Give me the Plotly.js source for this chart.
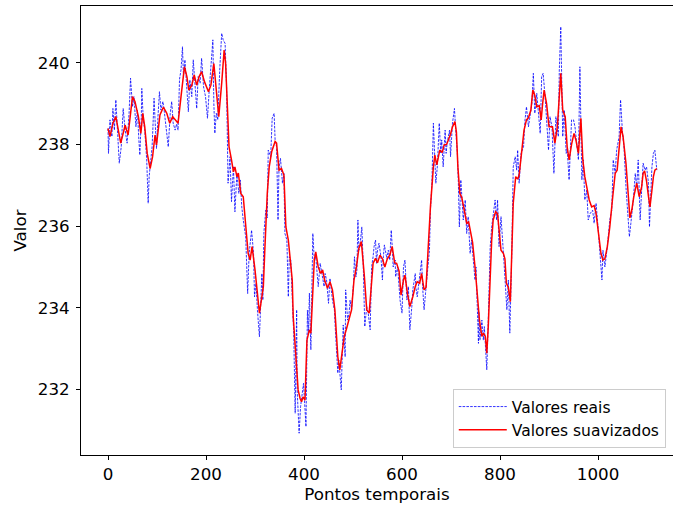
<!DOCTYPE html>
<html>
<head>
<meta charset="utf-8">
<script src="https://cdn.plot.ly/plotly-3.0.1.min.js"></script>
<style>html,body{margin:0;padding:0;background:#fff;}#chart{width:673px;height:509px;}</style>
</head>
<body>
<div id="chart"></div>
<script>
// Valores reais
const realX = [0,1,4,8,10,13,16,20,23,27,31,35,39,43,46,50,53,57,60,63,65,68,69,72,75,79,82,84,87,90,92,94,97,99,102,105,108,112,114,118,123,127,130,133,137,140,143,146,149,152,154,157,161,164,167,171,174,178,181,184,188,191,195,199,203,207,210,214,216,218,221,224,228,232,235,239,242,244,245,249,252,256,259,263,267,270,273,276,281,285,288,293,297,299,302,305,309,312,314,316,318,322,325,327,332,335,339,341,344,347,349,352,356,359,361,365,368,370,373,377,379,382,384,385,386,388,390,393,396,399,401,404,407,409,411,414,418,421,424,427,429,433,436,441,443,446,450,453,458,462,464,469,471,476,478,480,484,485,489,492,494,497,501,503,506,508,510,512,514,518,521,524,528,531,535,538,541,543,546,548,550,553,557,560,562,564,569,572,575,578,580,582,586,587,591,594,596,600,603,606,610,613,616,620,622,627,628,631,635,640,642,645,648,650,654,656,658,661,664,667,669,672,676,679,681,684,688,690,692,697,699,703,707,710,713,715,717,720,722,725,729,732,735,739,742,746,749,751,754,756,757,759,763,766,768,773,776,780,783,786,790,793,795,798,802,807,812,814,817,820,824,827,831,834,836,839,843,848,851,854,858,861,865,868,871,875,878,882,885,888,892,895,899,902,906,910,914,919,921,924,926,928,931,935,937,941,946,950,953,957,960,963,967,970,973,977,980,984,989,992,996,1001,1004,1008,1010,1014,1019,1024,1028,1031,1035,1038,1043,1046,1050,1053,1057,1062,1064,1067,1072,1076,1079,1082,1086,1089,1092,1096,1099,1103,1105,1108,1110,1113,1116,1120];
const realY = [238.39,237.78,238.6,238.19,238.88,238.35,239.09,238.19,237.54,237.94,238.88,238.35,238.03,238.76,239.62,238.92,239.17,238.43,238.84,238.11,237.74,238.68,239.37,238.6,238.35,237.62,236.56,237.21,237.62,237.94,238.52,239.13,238.35,237.9,238.68,239.29,238.84,239.05,238.9,238.43,237.94,238.76,239.05,238.52,238.35,238.5,238.35,239.6,239.82,240.39,239.66,240.07,239.41,238.8,239.58,239.17,240.07,239.41,238.88,239.66,239.5,240.11,239.41,239.17,238.64,239.41,239.82,240.56,239.0,238.27,238.76,238.6,239.82,240.72,240.56,240.47,239.41,238.19,237.05,237.7,236.6,237.45,236.35,237.29,236.8,237.13,236.47,236.15,235.74,234.35,235.33,235.9,235.33,234.27,234.6,233.94,233.29,234.19,234.84,234.19,235.82,236.39,236.2,237.86,237.7,238.64,238.76,238.11,237.94,236.15,237.45,237.66,237.05,237.29,235.82,235.66,234.27,235.25,235.17,233.95,233.38,231.42,232.97,233.95,231.99,231.58,230.93,231.58,231.91,232.15,231.74,231.09,233.94,233.38,234.36,232.97,235.82,235.17,235.25,234.76,234.52,235.09,234.84,234.52,234.84,234.68,234.11,234.72,234.19,233.95,233.46,232.4,232.72,231.99,232.8,233.58,232.8,234.44,233.7,233.87,234.19,233.95,234.6,235.25,234.76,234.93,236.15,235.41,235.5,235.98,235.0,233.54,234.03,233.87,233.46,235.0,235.25,235.5,235.66,235.09,235.41,235.58,235.25,234.68,235.25,235.54,235.21,235.41,235.17,235.9,235.5,235.0,235.17,234.76,235.0,234.36,234.19,233.87,235.0,235.17,234.19,234.52,233.46,234.03,234.44,234.84,234.52,234.27,234.68,235.17,234.52,233.95,234.36,234.68,235.25,235.41,236.39,237.05,238.52,237.62,237.05,237.45,238.52,237.78,238.11,237.45,238.35,237.78,238.03,238.35,237.7,238.52,238.88,238.27,237.78,237.05,235.98,237.13,236.64,236.15,236.64,235.82,236.23,235.33,235.66,235.17,234.68,235.0,234.03,233.13,233.9,233.21,233.7,233.21,233.54,232.48,233.7,235.5,235.98,236.31,236.64,236.15,236.64,235.5,236.23,235.33,234.44,233.95,234.68,233.38,235.33,237.45,237.7,237.37,237.86,237.05,237.78,237.94,238.6,238.92,238.43,238.68,239.0,239.74,238.76,239.25,238.76,238.27,239.66,239.74,239.17,238.6,237.86,238.68,238.43,237.29,238.68,238.19,239.82,240.88,239.41,238.19,238.84,237.78,237.9,237.13,238.6,238.6,238.43,237.94,237.62,239.9,237.13,237.62,236.64,236.88,236.15,236.31,236.39,236.07,236.56,235.82,235.33,234.68,235.41,235.0,235.5,236.15,236.39,237.62,237.29,237.86,238.19,239.09,238.27,237.94,236.96,235.98,235.74,236.07,236.64,237.29,236.96,237.62,236.15,236.88,237.54,237.37,237.45,237.05,235.98,236.88,237.45,237.78,237.86,237.37];

// Valores suavizados
const smoothX = [0,4,10,16,26,35,41,50,55,62,67,71,75,80,86,91,96,99,106,113,120,126,132,139,143,149,156,161,165,171,176,181,186,191,197,205,210,216,221,226,232,237,240,244,247,252,256,259,263,266,271,276,281,286,290,294,300,305,309,313,317,320,325,329,334,341,344,349,354,359,363,368,371,376,378,382,385,388,392,395,398,402,406,411,414,418,421,424,429,434,438,442,448,453,458,463,469,473,478,482,487,492,497,502,507,512,517,523,528,533,537,541,546,550,555,560,565,570,575,580,585,589,594,598,603,606,611,616,622,627,631,636,640,645,649,653,658,664,667,671,674,677,682,686,691,696,699,703,708,711,714,718,722,727,732,736,740,744,749,754,758,763,766,770,773,776,779,783,786,791,795,798,802,807,810,813,817,821,824,827,832,836,839,844,849,854,858,863,867,871,875,880,884,887,890,895,900,907,912,917,921,924,928,933,937,941,946,951,955,960,965,969,973,978,982,987,992,996,1001,1006,1010,1014,1019,1024,1030,1035,1039,1043,1047,1051,1057,1062,1065,1069,1073,1079,1084,1089,1092,1095,1099,1103,1106,1110,1113,1116,1120];
const smoothY = [238.39,238.19,238.52,238.68,238.03,238.47,238.23,239.17,239.05,238.68,238.27,238.76,238.43,237.78,237.41,237.70,238.23,237.99,238.72,238.91,238.76,238.52,238.68,238.56,238.52,239.17,239.9,239.66,239.33,239.45,239.70,239.45,239.66,239.78,239.53,239.29,239.45,239.98,239.25,238.68,239.5,240.31,239.98,238.76,237.94,237.62,237.33,237.45,237.21,237.3,236.8,236.72,236.07,235.33,235.17,235.5,234.93,234.27,233.87,234.19,234.52,235.41,236.8,237.45,237.82,238.07,238.03,237.37,237.41,237.25,235.98,235.66,235.33,234.68,233.78,233.13,232.56,231.99,231.78,231.70,231.82,231.74,233.21,233.46,233.38,234.52,235.17,235.37,235.0,234.84,234.93,234.68,234.48,234.64,234.44,233.95,232.80,232.48,232.89,233.29,233.5,233.70,233.95,234.68,235.0,235.46,235.62,234.8,233.95,233.87,234.52,235.09,235.21,235.1,235.29,235.2,235.0,235.2,235.29,235.5,235.1,235.09,234.9,234.31,234.68,234.8,234.36,234.03,234.27,234.52,234.64,234.6,234.84,234.44,234.5,235.41,236.47,237.45,237.74,237.5,237.7,237.86,237.8,237.99,238.0,238.15,238.25,238.43,238.56,238.3,237.45,236.8,236.7,236.39,236.07,236.1,235.82,235.6,235.0,234.36,233.70,233.3,233.38,233.3,232.89,233.54,234.6,235.66,236.15,236.35,236.3,235.9,235.41,235.33,235.2,234.6,234.5,234.15,235.3,236.56,237.21,237.15,237.25,237.78,238.35,238.60,238.65,238.84,239.33,239.2,238.92,238.95,238.6,239.0,239.33,239.0,238.43,238.43,238.03,238.43,239.25,239.74,238.84,238.68,237.94,237.62,238.0,238.27,238.1,237.78,238.64,237.62,237.21,236.88,236.64,236.47,236.5,236.31,235.82,235.33,235.17,235.2,235.5,235.98,236.72,237.29,237.37,237.94,238.43,238.2,237.54,236.72,236.2,236.4,236.72,237.05,236.72,236.96,237.29,237.35,237.1,236.72,236.47,236.88,237.21,237.37,237.41];

const tickVals = [0,200,400,600,800,1000];
const yTickVals = [232,234,236,238,240];

const font = {family: 'DejaVu Sans, sans-serif', size: 16.7, color: '#000'};
const legendFont = {family: 'DejaVu Sans, sans-serif', size: 15.5, color: '#000'};

const traces = [
  {x: realX, y: realY, type: 'scatter', mode: 'lines', name: 'Valores reais',
   line: {color: '#0000ff', width: 0.8, dash: '2.6px,1.2px'}},
  {x: smoothX, y: smoothY, type: 'scatter', mode: 'lines', name: 'Valores suavizados',
   line: {color: '#ff0000', width: 1.5}}
];

const layout = {
  width: 673, height: 509,
  margin: {l: 81, r: 0, t: 6, b: 54, pad: 0},
  paper_bgcolor: '#fff', plot_bgcolor: '#fff',
  font: font,
  showlegend: true,
  xaxis: {
    range: [-55.1, 1153], tickvals: tickVals, ticktext: tickVals.map(String),
    showgrid: false, zeroline: false, showline: true, mirror: true, linecolor: '#000', linewidth: 1,
    ticks: 'outside', ticklen: 4, tickwidth: 1, tickcolor: '#000',
    title: {text: 'Pontos temporais', font: font, standoff: 4}
  },
  yaxis: {
    range: [230.397, 241.388], tickvals: yTickVals, ticktext: yTickVals.map(String),
    showgrid: false, zeroline: false, showline: true, mirror: false, linecolor: '#000', linewidth: 1,
    ticks: 'outside', ticklen: 4, tickwidth: 1, tickcolor: '#000', ticklabelstandoff: 3,
    title: {text: 'Valor', font: font, standoff: 6}
  },
  legend: {
    x: 0.628, y: 0.147, xanchor: 'left', yanchor: 'top',
    bgcolor: 'rgba(255,255,255,0.8)', bordercolor: '#cccccc', borderwidth: 1,
    itemwidth: 48,
    font: legendFont
  }
};

Plotly.newPlot('chart', traces, layout, {displayModeBar: false, staticPlot: true});
</script>
</body>
</html>
